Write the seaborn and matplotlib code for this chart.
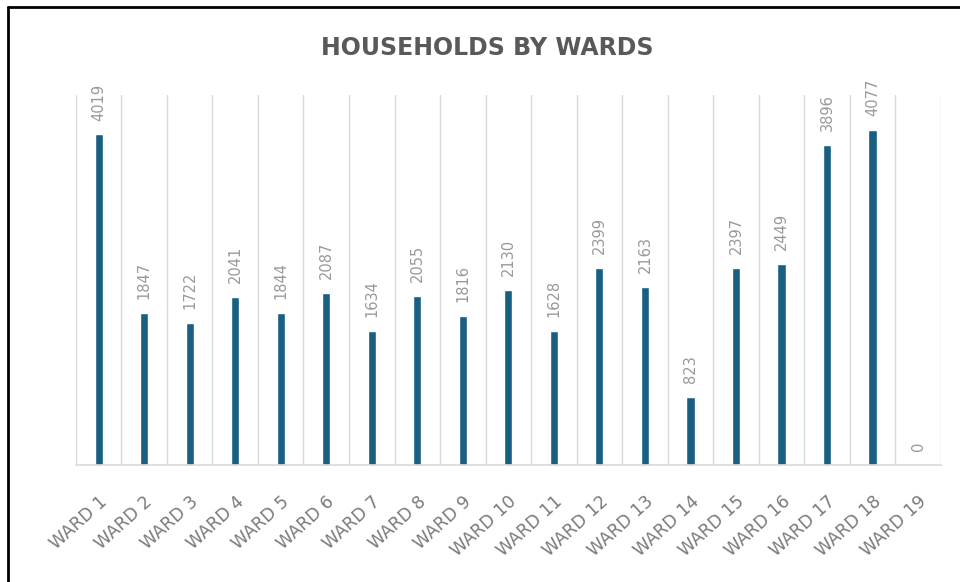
import numpy as np
import pandas as pd
import seaborn as sns
from matplotlib import pyplot as plt
from matplotlib.lines import Line2D

wards = ['WARD %d' % i for i in range(1, 20)]
households = [4019, 1847, 1722, 2041, 1844, 2087, 1634, 2055, 1816, 2130,
              1628, 2399, 2163, 823, 2397, 2449, 3896, 4077, 0]

bar_color = '#185f82'
grid_color = '#d9d9d9'

df = pd.DataFrame({'Ward': wards, 'Households': households})

sns.set_style('white')
fig = plt.figure(figsize=(9.6, 5.82), dpi=100)
ax = fig.add_axes([0.079, 0.201, 0.901, 0.636])

sns.barplot(data=df, x='Ward', y='Households', color=bar_color,
            width=0.18, saturation=1, ax=ax)

ax.set_xlim(-0.5, len(wards) - 0.5)
ax.set_ylim(0, 4500)

# vertical gridlines between the categories
for b in np.arange(-0.5, len(wards), 1.0):
    ax.axvline(b, color=grid_color, lw=1, zorder=0)

for side in ['left', 'right', 'top']:
    ax.spines[side].set_visible(False)
ax.spines['bottom'].set_color(grid_color)
ax.spines['bottom'].set_linewidth(1.2)

ax.set_yticks([])
ax.set_xlabel('')
ax.set_ylabel('')
ax.tick_params(axis='x', length=0, pad=20)
plt.setp(ax.get_xticklabels(), rotation=42, ha='right', rotation_mode='anchor',
         fontsize=12.5, color='#7a7a7a')

# value labels above bars
ax.bar_label(ax.containers[0], labels=[str(v) for v in households],
             rotation=90, padding=10, fontsize=10.5, color='#999999')

fig.text(0.508, 0.918, 'HOUSEHOLDS BY WARDS', ha='center', va='center',
         fontsize=17, fontweight='bold', color='#595959',
         family='DejaVu Sans')

# frame lines (top and left edges of the screenshot)
fig.add_artist(Line2D([8 / 960, 1], [1 - 7 / 582, 1 - 7 / 582],
                      transform=fig.transFigure, color='black', lw=2))
fig.add_artist(Line2D([8 / 960, 8 / 960], [0, 1 - 7 / 582],
                      transform=fig.transFigure, color='black', lw=2))

plt.savefig('out.png', dpi=100)
